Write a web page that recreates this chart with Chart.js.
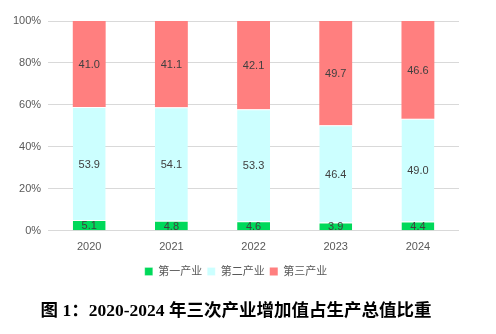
<!DOCTYPE html>
<html>
<head>
<meta charset="utf-8">
<script src="https://cdn.jsdelivr.net/npm/chart.js@4"></script>
<style>
  html, body { margin: 0; padding: 0; background: #fff; }
  #wrap { width: 496px; height: 334px; }
</style>
</head>
<body>
<div id="wrap"><canvas id="c" width="496" height="334"></canvas></div>
<script>
// Share of GDP by sector (%)
const years = ['2020', '2021', '2022', '2023', '2024'];
const primary = [5.1, 4.8, 4.6, 3.9, 4.4];
const secondary = [53.9, 54.1, 53.3, 46.4, 49.0];
const tertiary = [41.0, 41.1, 42.1, 49.7, 46.6];
const seriesNames = ['第一产业', '第二产业', '第三产业'];
const yTicks = ['0%', '20%', '40%', '60%', '80%', '100%'];

const sansFont = '"Liberation Sans", "Noto Sans CJK SC", sans-serif';

// Writes each segment's value in the middle of its bar piece
const segmentLabels = {
  id: 'segmentLabels',
  afterDatasetsDraw(chart) {
    const ctx = chart.ctx;
    ctx.save();
    ctx.font = '11px ' + sansFont;
    ctx.fillStyle = '#404040';
    ctx.textAlign = 'center';
    ctx.textBaseline = 'middle';
    chart.data.datasets.forEach((ds, i) => {
      const meta = chart.getDatasetMeta(i);
      meta.data.forEach((bar, j) => {
        const y = (bar.y + bar.base) / 2;
        ctx.fillText(ds.data[j].toFixed(1), bar.x, y + 1);
      });
    });
    ctx.restore();
  }
};

new Chart(document.getElementById('c'), {
  type: 'bar',
  data: {
    labels: years,
    datasets: [
      { label: seriesNames[0], data: primary, backgroundColor: '#00D95A', borderColor: '#ffffff', borderWidth: { top: 1 } },
      { label: seriesNames[1], data: secondary, backgroundColor: '#CCFFFF', borderColor: '#ffffff', borderWidth: { top: 1 } },
      { label: seriesNames[2], data: tertiary, backgroundColor: '#FF7F7F', borderColor: '#ffffff', borderWidth: 0 }
    ]
  },
  options: {
    responsive: false,
    animation: false,
    layout: { padding: { top: 21, right: 30, left: 6, bottom: 4 } },
    datasets: { bar: { categoryPercentage: 1, barPercentage: 0.4 } },
    scales: {
      x: {
        stacked: true,
        grid: { display: false },
        border: { display: false },
        ticks: { color: '#595959', font: { family: sansFont, size: 11 }, padding: 2 },
        afterFit: (s) => { s.height += 5; }
      },
      y: {
        stacked: true,
        min: 0,
        max: 100,
        border: { display: false },
        grid: { color: '#d9d9d9', drawTicks: false },
        ticks: {
          stepSize: 20,
          padding: 7,
          color: '#595959',
          font: { family: sansFont, size: 11 },
          callback: (v) => yTicks[v / 20]
        }
      },
      // empty spacer on the right edge of the plot
      yRight: {
        position: 'right',
        min: 0,
        max: 100,
        border: { display: false },
        grid: { display: false },
        ticks: { display: false },
        afterFit: (s) => { s.width = 7; }
      }
    },
    plugins: {
      tooltip: { enabled: false },
      legend: {
        position: 'bottom',
        labels: {
          boxWidth: 8,
          boxHeight: 8,
          padding: 5,
          color: '#595959',
          font: { family: sansFont, size: 11 }
        }
      },
      title: {
        display: true,
        position: 'bottom',
        text: '图 1：2020-2024 年三次产业增加值占生产总值比重',
        color: '#000000',
        font: { family: '"Liberation Serif", "Noto Sans CJK SC", serif', size: 17.5, weight: 'bold' },
        padding: { top: 14, bottom: 8 }
      }
    }
  },
  plugins: [segmentLabels]
});
</script>
</body>
</html>
